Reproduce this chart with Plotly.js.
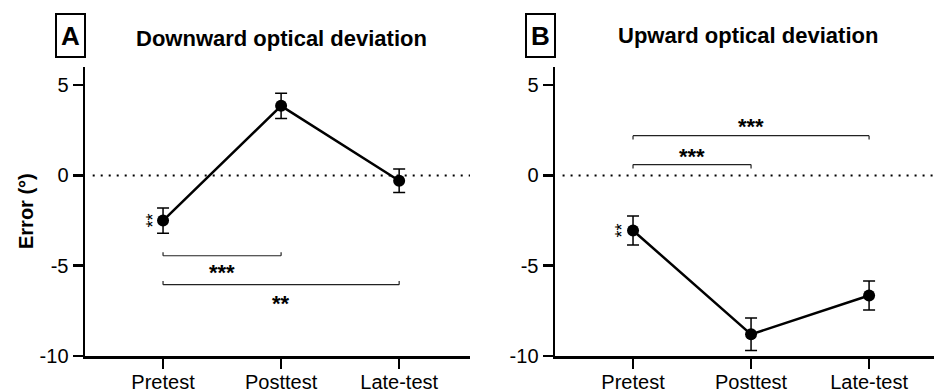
<!DOCTYPE html>
<html>
<head>
<meta charset="utf-8">
<script src="https://cdn.plot.ly/plotly-3.0.1.min.js"></script>
<style>html,body{margin:0;padding:0;background:#fff;}#chart{width:934px;height:390px;}</style>
</head>
<body>
<div id="chart"></div>
<script>
// ---- data ----
const categories = ['Pretest', 'Posttest', 'Late-test'];
const downMean = [-2.5, 3.85, -0.3];
const downSem = [0.7, 0.7, 0.65];
const upMean = [-3.05, -8.8, -6.65];
const upSem = [0.8, 0.9, 0.8];
const yTickVals = [-10, -5, 0, 5];
const yTickText = ['-10', '-5', '0', '5'];
// significance brackets: [fromIndex, toIndex, yLevel, label, labelY]
const downBrackets = [[0, 1, -4.45, '***', -5.1], [0, 2, -6.05, '**', -6.8]];
const upBrackets = [[0, 1, 0.6, '***', 1.3], [0, 2, 2.2, '***', 3.0]];
const downPretestSig = '**';
const upPretestSig = '**';

const FONT = 'Liberation Sans, Arial, sans-serif';

function series(y, e, xa, ya) {
  return {
    type: 'scatter', mode: 'lines+markers', x: categories, y: y,
    xaxis: xa, yaxis: ya,
    line: {color: '#000', width: 2.5},
    marker: {color: '#000', size: 12},
    error_y: {type: 'data', array: e, visible: true, color: '#000', thickness: 1.5, width: 6},
    showlegend: false, hoverinfo: 'skip'
  };
}

const traces = [series(downMean, downSem, 'x', 'y'), series(upMean, upSem, 'x2', 'y2')];

const shapes = [];
const annotations = [];

function addBrackets(list, xr, yr, tick) {
  list.forEach(b => {
    const [a, c, y, lab, ly] = b;
    const ln = {color: '#222', width: 1.2};
    shapes.push({type: 'line', xref: xr, yref: yr, x0: a, x1: c, y0: y, y1: y, line: ln});
    shapes.push({type: 'line', xref: xr, yref: yr, x0: a, x1: a, y0: y, y1: y + tick, line: ln});
    shapes.push({type: 'line', xref: xr, yref: yr, x0: c, x1: c, y0: y, y1: y + tick, line: ln});
    annotations.push({xref: xr, yref: yr, x: (a + c) / 2, y: ly, text: '<b>' + lab + '</b>',
      xanchor: 'center', yanchor: 'middle',
      showarrow: false, font: {family: FONT, size: 22, color: '#000'}, yshift: -5});
  });
}
addBrackets(downBrackets, 'x', 'y', 0.2);
addBrackets(upBrackets, 'x2', 'y2', -0.22);

// zero lines
[['x', 'y'], ['x2', 'y2']].forEach(([xr, yr]) => {
  shapes.push({type: 'line', xref: xr + ' domain', yref: yr, x0: 0.02, x1: 1, y0: 0, y1: 0,
    line: {color: '#000', width: 2, dash: '2px,6px'}});
});

// pretest significance (rotated)
annotations.push({xref: 'x', yref: 'y', x: 0, y: downMean[0], text: downPretestSig, textangle: -90,
  xanchor: 'center', yanchor: 'middle',
  showarrow: false, font: {family: FONT, size: 18, color: '#000'}, xshift: -11});
annotations.push({xref: 'x2', yref: 'y2', x: 0, y: upMean[0], text: upPretestSig, textangle: -90,
  xanchor: 'center', yanchor: 'middle',
  showarrow: false, font: {family: FONT, size: 18, color: '#000'}, xshift: -11});

// titles and panel letters
const L = 85, W = 849, B = 356, H = 289;
const px = v => (v - L) / W;
const py = v => (B - v) / H;
function paperText(x, y, text, size, extra) {
  annotations.push(Object.assign({xref: 'paper', yref: 'paper', x: px(x), y: py(y), text: text,
    xanchor: 'center', yanchor: 'middle', showarrow: false,
    font: {family: FONT, size: size, color: '#000'}}, extra || {}));
}
paperText(281, 38, '<b>Downward optical deviation</b>', 22);
paperText(748, 35, '<b>Upward optical deviation</b>', 22);
const box = {width: 27, height: 41, bordercolor: '#000', borderwidth: 2, borderpad: 0};
paperText(70, 35, '<b>A</b>', 26, box);
paperText(540, 35, '<b>B</b>', 26, box);
paperText(26, 211, '<b>Error (°)</b>', 20, {textangle: -90});

const xCommon = {
  type: 'category', showgrid: false, zeroline: false, showline: true, linecolor: '#000', linewidth: 2.5,
  ticks: 'outside', ticklen: 10, tickwidth: 2.5, tickcolor: '#000', ticklabelstandoff: -4,
  tickfont: {family: FONT, size: 20, color: '#000'}, fixedrange: true
};
const yCommon = {
  range: [-10, 6], showgrid: false, zeroline: false, showline: true, linecolor: '#000', linewidth: 2.5,
  ticks: 'outside', ticklen: 10, tickwidth: 2.5, tickcolor: '#000',
  tickmode: 'array', tickvals: yTickVals, ticktext: yTickText,
  tickfont: {family: FONT, size: 20, color: '#000'}, fixedrange: true
};

const layout = {
  width: 934, height: 390,
  margin: {l: L, r: 0, t: 67, b: 390 - B},
  paper_bgcolor: '#fff', plot_bgcolor: '#fff',
  xaxis: Object.assign({}, xCommon, {domain: [0, px(470)], range: [-0.661, 2.6], anchor: 'y'}),
  yaxis: Object.assign({}, yCommon, {domain: [0, 1], anchor: 'x'}),
  xaxis2: Object.assign({}, xCommon, {domain: [px(555), 1], range: [-0.661, 2.55], anchor: 'y2'}),
  yaxis2: Object.assign({}, yCommon, {domain: [0, 1], anchor: 'x2'}),
  shapes: shapes, annotations: annotations, showlegend: false
};

Plotly.newPlot('chart', traces, layout, {displayModeBar: false, staticPlot: true});
</script>
</body>
</html>
